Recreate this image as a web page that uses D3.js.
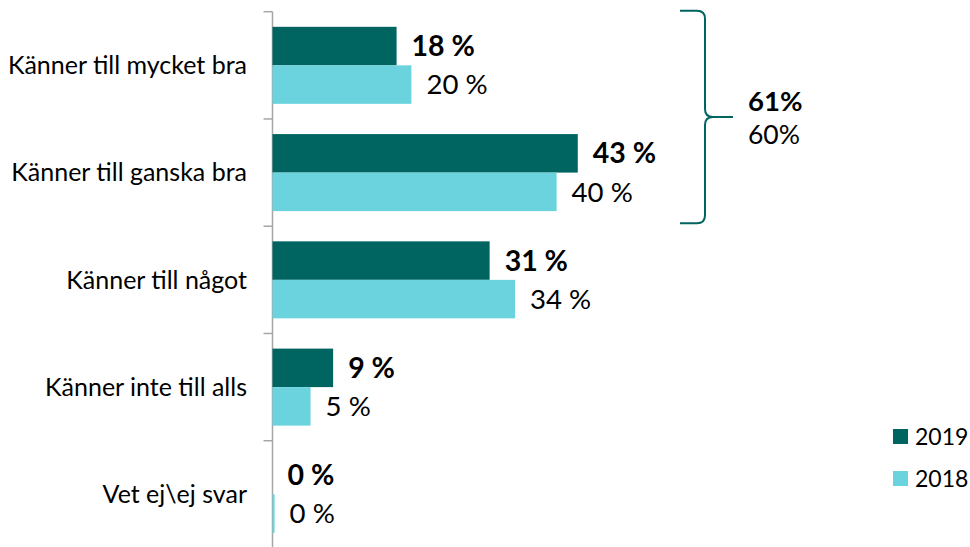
<!DOCTYPE html>
<html>
<head>
<meta charset="utf-8">
<script src="https://cdn.jsdelivr.net/npm/d3@7"></script>
<style>
  body { margin: 0; background: #fff; }
  text { font-family: Lato, "Open Sans", sans-serif; fill: #000; }
</style>
</head>
<body>
<script>
var width = 970;
var height = 547;

// data
var categories = ['Känner till mycket bra', 'Känner till ganska bra', 'Känner till något', 'Känner inte till alls', 'Vet ej\\ej svar'];
var series = ['2019', '2018'];
var values2019 = [17.6, 43.3, 30.8, 8.6, 0];
var values2018 = [19.7, 40.3, 34.4, 5.4, 0.3];
var bracketLabels = ['61%', '60%'];

var colors = {'2019': '#006461', '2018': '#6BD3DE'};

var svg = d3.select('body')
  .append('svg')
  .attr('width', width)
  .attr('height', height);

var x = d3.scaleLinear().domain([0, 100]).range([272.5, 977.5]);
var y = d3.scaleBand().domain(categories).range([11.7, 548]).paddingInner(0.282).paddingOuter(0.141);
var ySub = d3.scaleBand().domain(series).range([0, y.bandwidth()]);

var rows = categories.map(function (c, i) {
  return {cat: c, v2019: values2019[i], v2018: values2018[i]};
});

// axis line + ticks at band boundaries
var step = y.step();
var y0 = y.range()[0];
svg.append('line')
  .attr('x1', x(0)).attr('x2', x(0))
  .attr('y1', y0).attr('y2', height)
  .style('stroke', '#a6a6a6').style('stroke-width', 1.5);
d3.range(categories.length + 1).forEach(function (i) {
  svg.append('line')
    .attr('x1', x(0) - 9).attr('x2', x(0))
    .attr('y1', y0 + i * step).attr('y2', y0 + i * step)
    .style('stroke', '#a6a6a6').style('stroke-width', 1.5);
});

// category labels
svg.selectAll('text.cat')
  .data(categories)
  .enter()
  .append('text')
  .attr('class', 'cat')
  .attr('x', 247)
  .attr('y', function (d) { return y(d) + y.bandwidth() / 2; })
  .attr('dy', '0.35em')
  .attr('text-anchor', 'end')
  .style('font-size', '25px')
  .text(function (d) { return d; });

// bars
series.forEach(function (s) {
  var g = svg.append('g').attr('class', 'series-' + s);
  g.selectAll('rect')
    .data(rows)
    .enter()
    .append('rect')
    .attr('x', x(0))
    .attr('y', function (d) { return y(d.cat) + ySub(s); })
    .attr('width', function (d) { return x(d['v' + s]) - x(0); })
    .attr('height', ySub.bandwidth())
    .style('fill', colors[s]);

  g.selectAll('text')
    .data(rows)
    .enter()
    .append('text')
    .attr('x', function (d) { return x(d['v' + s]) + 15; })
    .attr('y', function (d) { return y(d.cat) + ySub(s) + ySub.bandwidth() / 2; })
    .attr('dy', '0.35em')
    .style('font-size', s === '2019' ? '28.5px' : '27.6px')
    .style('font-weight', s === '2019' ? 'bold' : 'normal')
    .text(function (d) { return Math.round(d['v' + s]) + ' %'; });
});

// bracket around first two categories
var bTop = y0 - 1;
var bBot = y0 + 2 * step - 3;
var bMid = (bTop + bBot) / 2;
var bx = 705, bl = 680, bp = 733, r = 8;
svg.append('path')
  .attr('d',
    'M' + bl + ',' + bTop +
    ' L' + (bx - r) + ',' + bTop +
    ' Q' + bx + ',' + bTop + ' ' + bx + ',' + (bTop + r) +
    ' L' + bx + ',' + (bMid - r) +
    ' Q' + bx + ',' + bMid + ' ' + (bx + r) + ',' + bMid +
    ' L' + bp + ',' + bMid +
    ' M' + (bx + r) + ',' + bMid +
    ' Q' + bx + ',' + bMid + ' ' + bx + ',' + (bMid + r) +
    ' L' + bx + ',' + (bBot - r) +
    ' Q' + bx + ',' + bBot + ' ' + (bx - r) + ',' + bBot +
    ' L' + bl + ',' + bBot)
  .style('fill', 'none')
  .style('stroke', colors['2019'])
  .style('stroke-width', 2);

svg.append('text')
  .attr('x', 748).attr('y', bMid - 16).attr('dy', '0.35em')
  .style('font-size', '27.5px').style('font-weight', 'bold')
  .text(bracketLabels[0]);
svg.append('text')
  .attr('x', 748).attr('y', bMid + 18).attr('dy', '0.35em')
  .style('font-size', '26.5px')
  .text(bracketLabels[1]);

// legend
var legend = svg.append('g').attr('class', 'legend');
series.forEach(function (s, i) {
  var ly = 429 + i * 42;
  legend.append('rect')
    .attr('x', 893).attr('y', ly)
    .attr('width', 15).attr('height', 15)
    .style('fill', colors[s]);
  legend.append('text')
    .attr('x', 915).attr('y', ly + 8).attr('dy', '0.35em')
    .style('font-size', '23px')
    .text(s);
});
</script>
</body>
</html>
